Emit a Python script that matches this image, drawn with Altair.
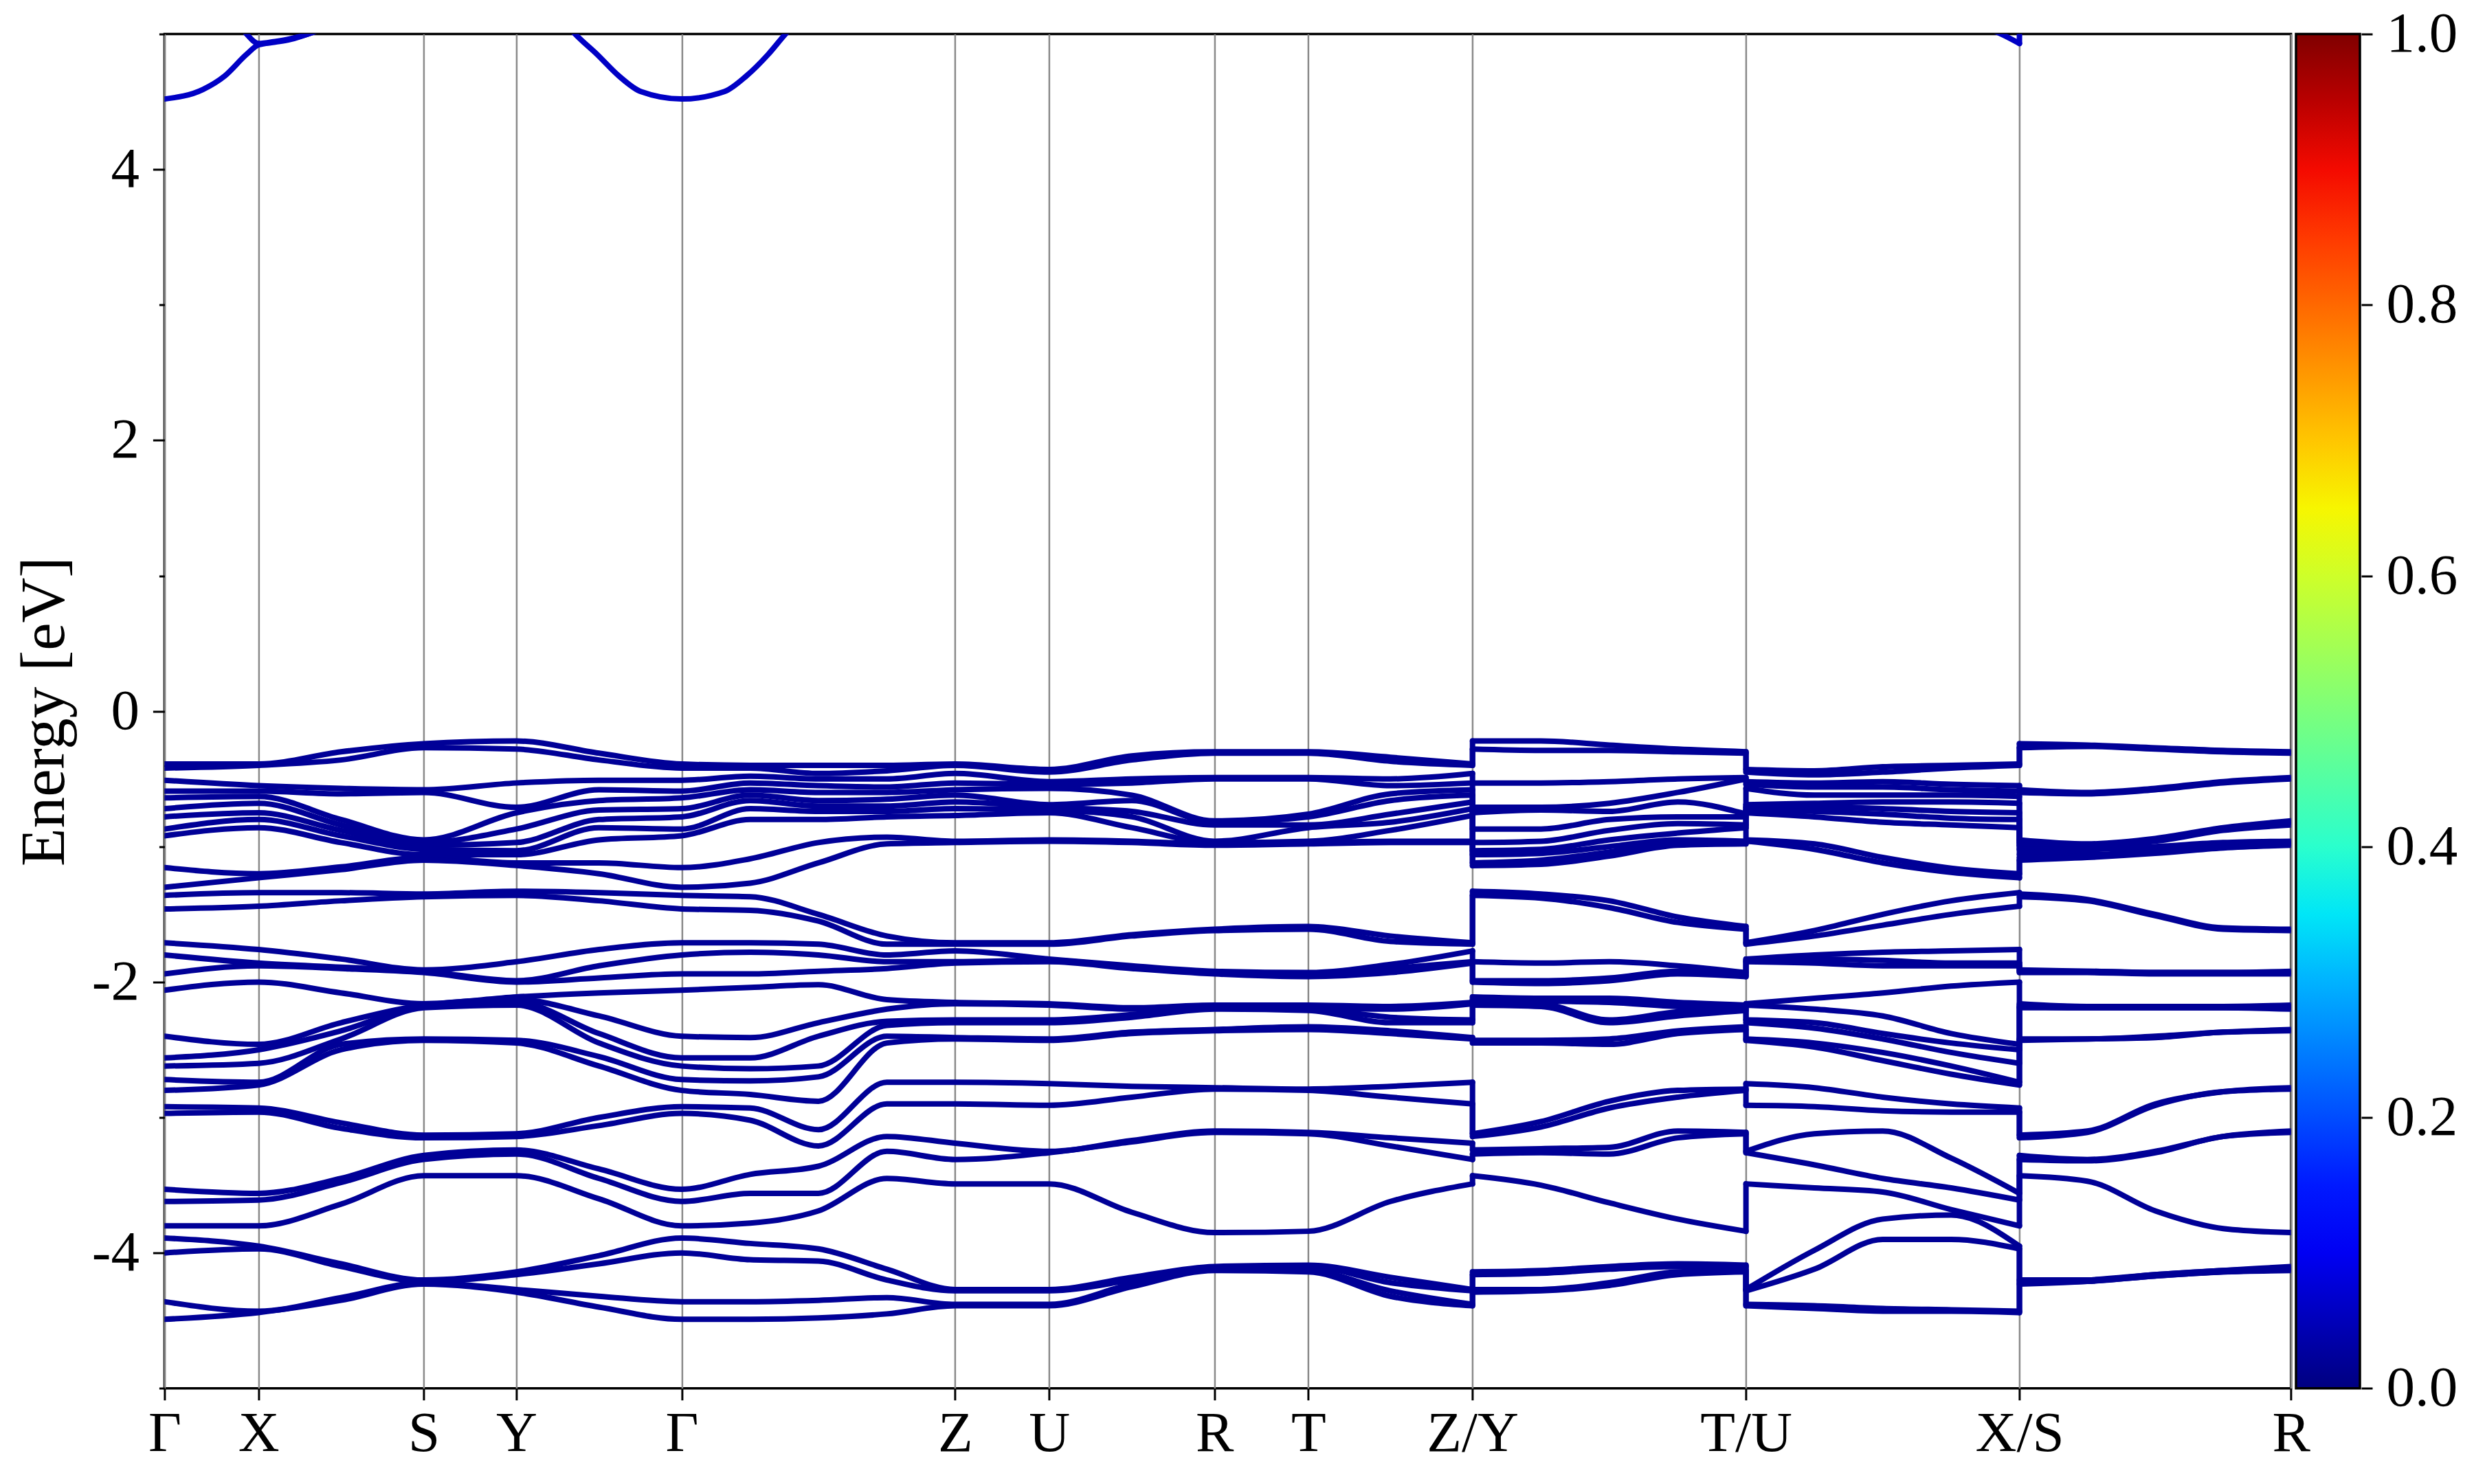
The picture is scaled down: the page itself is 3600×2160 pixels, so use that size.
import altair as alt
import pandas as pd

# ---------------- path / axis data ----------------
K_TICKS = [0.0, 0.0442, 0.1219, 0.1655, 0.2432, 0.3718, 0.4160, 0.4937, 0.5379, 0.6151, 0.7437, 0.8723, 1.0]
K_LABELS = ["Γ", "X", "S", "Y", "Γ", "Z", "U", "R", "T", "Z/Y", "T/U", "X/S", "R"]
Y_TICKS = [-5, -4, -3, -2, -1, 0, 1, 2, 3, 4, 5]
CBAR_TICKS = [0.0, 0.2, 0.4, 0.6, 0.8, 1.0]

# jet colormap stops
JET_STOPS = [0.0, 0.11, 0.125, 0.34, 0.35, 0.375, 0.64, 0.65, 0.66, 0.89, 0.91, 1.0]
JET_COLORS = ["#000080", "#0000ff", "#0000ff", "#00dbff", "#00e6f7", "#15ffe2",
              "#efff08", "#f7f600", "#ffec00", "#ff1300", "#e80000", "#800000"]

W_VALENCE = 0.02
W_CONDUCTION = 0.06

# ---------------- valence bands (eV), sorted, at sample k-points ----------------
E_GAMMA = [-0.39, -0.42, -0.51, -0.59, -0.64, -0.72, -0.78, -0.87, -0.92, -1.155, -1.30, -1.36, -1.46,
           -1.71, -1.80, -1.94, -2.06, -2.40, -2.56, -2.62, -2.72, -2.80, -2.92, -2.97,
           -3.53, -3.62, -3.80, -3.89, -4.00, -4.36, -4.49]
E_X = [-0.39, -0.40, -0.55, -0.59, -0.63, -0.68, -0.75, -0.80, -0.86, -1.20, -1.23, -1.34, -1.44,
       -1.76, -1.86, -1.88, -2.00, -2.46, -2.50, -2.60, -2.74, -2.76, -2.93, -2.96,
       -3.56, -3.61, -3.80, -3.95, -3.97, -4.43, -4.44]
E_XS = [-0.30, -0.36, -0.57, -0.61, -0.80, -0.84, -0.88, -0.92, -0.97, -1.15, -1.17, -1.34, -1.40,
        -1.83, -1.89, -1.90, -2.08, -2.30, -2.36, -2.42, -2.46, -2.50, -3.04, -3.08,
        -3.45, -3.48, -3.64, -4.08, -4.10, -4.33, -4.35]
E_S = [-0.24, -0.27, -0.58, -0.60, -0.95, -0.97, -0.99, -1.02, -1.06, -1.08, -1.10, -1.35, -1.37,
       -1.91, -1.92, -1.93, -2.16, -2.17, -2.18, -2.19, -2.42, -2.43, -3.13, -3.15,
       -3.28, -3.31, -3.43, -4.20, -4.21, -4.22, -4.23]
E_Y = [-0.22, -0.28, -0.53, -0.71, -0.75, -0.87, -0.97, -1.03, -1.06, -1.12, -1.14, -1.33, -1.36,
       -1.85, -1.99, -2.00, -2.11, -2.13, -2.15, -2.17, -2.43, -2.45, -3.12, -3.14,
       -3.24, -3.27, -3.43, -4.14, -4.16, -4.27, -4.29]
E_YG = [-0.31, -0.36, -0.51, -0.58, -0.66, -0.73, -0.80, -0.86, -0.95, -1.12, -1.20, -1.34, -1.40,
        -1.76, -1.88, -1.97, -2.08, -2.25, -2.38, -2.45, -2.55, -2.62, -3.00, -3.06,
        -3.38, -3.45, -3.60, -4.02, -4.08, -4.32, -4.40]
E_GZ1 = [-0.40, -0.42, -0.48, -0.53, -0.58, -0.62, -0.66, -0.72, -0.80, -1.09, -1.27, -1.37, -1.47,
         -1.71, -1.78, -1.94, -2.04, -2.41, -2.56, -2.64, -2.73, -2.83, -2.93, -3.02,
         -3.42, -3.56, -3.78, -3.93, -4.05, -4.36, -4.49]
E_GZ2 = [-0.40, -0.46, -0.50, -0.55, -0.60, -0.66, -0.70, -0.74, -0.80, -0.97, -1.12, -1.50, -1.55,
         -1.72, -1.80, -1.92, -2.02, -2.30, -2.40, -2.62, -2.70, -2.88, -3.09, -3.21,
         -3.36, -3.56, -3.69, -3.97, -4.06, -4.35, -4.48]
E_GZ3 = [-0.40, -0.44, -0.50, -0.56, -0.60, -0.65, -0.70, -0.74, -0.78, -0.93, -0.98, -1.66, -1.72,
         -1.80, -1.85, -1.90, -2.13, -2.20, -2.29, -2.32, -2.40, -2.45, -2.74, -2.90,
         -3.14, -3.25, -3.45, -4.12, -4.20, -4.33, -4.45]
E_Z = [-0.39, -0.40, -0.46, -0.53, -0.58, -0.62, -0.67, -0.72, -0.77, -0.96, -0.97, -1.71, -1.72,
       -1.77, -1.85, -1.86, -2.15, -2.16, -2.28, -2.30, -2.41, -2.42, -2.74, -2.90,
       -3.19, -3.31, -3.49, -4.27, -4.28, -4.38, -4.39]
E_U = [-0.43, -0.45, -0.52, -0.54, -0.57, -0.69, -0.71, -0.73, -0.75, -0.95, -0.96, -1.71, -1.72,
       -1.83, -1.84, -1.85, -2.16, -2.17, -2.28, -2.30, -2.42, -2.43, -2.75, -2.91,
       -3.25, -3.26, -3.49, -4.27, -4.28, -4.38, -4.39]
E_UR = [-0.33, -0.36, -0.50, -0.53, -0.62, -0.66, -0.74, -0.78, -0.86, -0.96, -0.97, -1.65, -1.66,
        -1.88, -1.89, -1.90, -2.19, -2.20, -2.24, -2.26, -2.37, -2.38, -2.77, -2.85,
        -3.17, -3.18, -3.70, -4.18, -4.20, -4.23, -4.25]
E_R = [-0.30, -0.31, -0.49, -0.50, -0.81, -0.82, -0.84, -0.96, -0.97, -0.98, -0.99, -1.61, -1.62,
       -1.92, -1.93, -1.94, -2.17, -2.18, -2.19, -2.20, -2.35, -2.36, -2.78, -2.79,
       -3.10, -3.11, -3.85, -4.10, -4.11, -4.12, -4.13]
E_T = [-0.30, -0.31, -0.49, -0.50, -0.76, -0.78, -0.84, -0.86, -0.96, -0.97, -0.98, -1.59, -1.61,
       -1.93, -1.95, -1.96, -2.17, -2.19, -2.20, -2.21, -2.33, -2.35, -2.79, -2.80,
       -3.11, -3.12, -3.84, -4.09, -4.10, -4.13, -4.14]
E_TZ = [-0.34, -0.37, -0.50, -0.55, -0.61, -0.66, -0.76, -0.82, -0.88, -0.96, -0.97, -1.66, -1.70,
        -1.87, -1.90, -1.93, -2.18, -2.20, -2.26, -2.30, -2.36, -2.38, -2.77, -2.85,
        -3.15, -3.21, -3.62, -4.18, -4.22, -4.28, -4.32]
E_YT1 = [-0.22, -0.29, -0.53, -0.71, -0.73, -0.87, -0.96, -1.02, -1.05, -1.10, -1.13, -1.35, -1.38,
         -1.86, -1.99, -2.01, -2.12, -2.14, -2.16, -2.18, -2.43, -2.45, -3.03, -3.07,
         -3.23, -3.26, -3.50, -4.13, -4.15, -4.27, -4.28]
E_YT2 = [-0.25, -0.29, -0.52, -0.68, -0.74, -0.80, -0.88, -0.95, -1.00, -1.04, -1.07, -1.40, -1.45,
         -1.85, -1.97, -1.99, -2.12, -2.15, -2.28, -2.30, -2.42, -2.46, -2.88, -2.93,
         -3.22, -3.27, -3.63, -4.10, -4.12, -4.22, -4.24]
E_YT3 = [-0.28, -0.30, -0.50, -0.60, -0.67, -0.78, -0.83, -0.90, -0.95, -0.97, -0.99, -1.52, -1.56,
         -1.88, -1.92, -1.94, -2.15, -2.18, -2.22, -2.25, -2.36, -2.38, -2.80, -2.85,
         -3.10, -3.15, -3.75, -4.08, -4.10, -4.14, -4.16]
E_UX1 = [-0.44, -0.47, -0.53, -0.56, -0.62, -0.68, -0.71, -0.74, -0.78, -0.98, -1.02, -1.62, -1.66,
         -1.80, -1.83, -1.86, -2.12, -2.20, -2.30, -2.34, -2.45, -2.48, -2.78, -2.92,
         -3.12, -3.35, -3.52, -3.98, -4.12, -4.39, -4.41]
E_UX2 = [-0.41, -0.45, -0.52, -0.56, -0.62, -0.67, -0.72, -0.76, -0.82, -1.08, -1.12, -1.50, -1.58,
         -1.78, -1.84, -1.88, -2.08, -2.25, -2.38, -2.42, -2.52, -2.58, -2.85, -2.95,
         -3.10, -3.45, -3.55, -3.75, -3.90, -4.41, -4.43]
E_UX3 = [-0.40, -0.42, -0.54, -0.58, -0.62, -0.67, -0.74, -0.79, -0.84, -1.16, -1.19, -1.40, -1.50,
         -1.77, -1.86, -1.88, -2.03, -2.38, -2.45, -2.52, -2.62, -2.68, -2.90, -2.96,
         -3.30, -3.52, -3.68, -3.72, -3.90, -4.42, -4.43]
E_SR1 = [-0.25, -0.26, -0.60, -0.61, -0.98, -0.99, -1.00, -1.02, -1.06, -1.07, -1.08, -1.39, -1.40,
         -1.92, -1.92, -1.93, -2.18, -2.18, -2.19, -2.19, -2.42, -2.42, -3.10, -3.11,
         -3.31, -3.32, -3.47, -4.20, -4.20, -4.21, -4.21]
E_SR2 = [-0.27, -0.28, -0.57, -0.58, -0.94, -0.95, -0.96, -1.00, -1.03, -1.04, -1.05, -1.50, -1.51,
         -1.93, -1.93, -1.94, -2.18, -2.18, -2.19, -2.19, -2.40, -2.41, -2.90, -2.91,
         -3.25, -3.26, -3.69, -4.16, -4.16, -4.17, -4.17]
E_SR3 = [-0.29, -0.30, -0.52, -0.53, -0.86, -0.87, -0.88, -0.97, -0.99, -1.00, -1.01, -1.60, -1.61,
         -1.93, -1.93, -1.94, -2.18, -2.18, -2.19, -2.19, -2.37, -2.37, -2.81, -2.81,
         -3.14, -3.14, -3.82, -4.13, -4.13, -4.14, -4.14]

# continuous path sections: sample k positions and the energy lists at them
SEC1_K = [0.0, 0.0442, 0.0830, 0.1219, 0.1655, 0.2043, 0.2432, 0.2754, 0.3075, 0.3397,
          0.3718, 0.4160, 0.4549, 0.4937, 0.5379, 0.5765, 0.6151]
SEC1_E = [E_GAMMA, E_X, E_XS, E_S, E_Y, E_YG, E_GAMMA, E_GZ1, E_GZ2, E_GZ3,
          E_Z, E_U, E_UR, E_R, E_T, E_TZ, E_Z]
SEC2_K = [0.6151, 0.6473, 0.6794, 0.7116, 0.7437]
SEC2_E = [E_Y, E_YT1, E_YT2, E_YT3, E_T]
SEC3_K = [0.7437, 0.7759, 0.8080, 0.8402, 0.8723]
SEC3_E = [E_U, E_UX1, E_UX2, E_UX3, E_X]
SEC4_K = [0.8723, 0.9042, 0.9362, 0.9681, 1.0]
SEC4_E = [E_S, E_SR1, E_SR2, E_SR3, E_R]

# path discontinuities (k, energies before, energies after)
JUMP_K = [0.6151, 0.7437, 0.8723]
JUMP_FROM = [E_Z, E_T, E_X]
JUMP_TO = [E_Y, E_U, E_S]

# conduction-band pieces visible below 5 eV
CB_A_K = [0.0, 0.018, 0.0283, 0.0386, 0.0442, 0.052, 0.0592, 0.0675, 0.085]
CB_A_E = [4.52, 4.59, 4.69, 4.85, 4.92, 4.94, 4.96, 5.00, 5.12]
CB_B_K = [0.030, 0.0386, 0.0442, 0.052, 0.0592, 0.0675, 0.085]
CB_B_E = [5.20, 5.00, 4.93, 4.945, 4.965, 5.00, 5.12]
CB_C_K = [0.180, 0.1931, 0.2034, 0.2137, 0.2240, 0.2432, 0.2633, 0.2736, 0.2839, 0.2920, 0.305]
CB_C_E = [5.25, 5.00, 4.85, 4.69, 4.575, 4.52, 4.575, 4.69, 4.85, 5.00, 5.20]
CB_D_K = [0.855, 0.865, 0.8723]
CB_D_E = [5.06, 4.99, 4.93]
CB_JUMP = (0.8723, 4.93, 5.30)

# ---------------- build tables ----------------
rows = []
for s, (ks, es) in enumerate([(SEC1_K, SEC1_E), (SEC2_K, SEC2_E), (SEC3_K, SEC3_E), (SEC4_K, SEC4_E)]):
    for j, (k, elist) in enumerate(zip(ks, es)):
        for b, e in enumerate(sorted(elist, reverse=True)):
            rows.append({"line": f"v{s}_{b}", "k": k, "E": e, "w": W_VALENCE, "ord": j})
for name, ks, es in [("cA", CB_A_K, CB_A_E), ("cB", CB_B_K, CB_B_E), ("cC", CB_C_K, CB_C_E), ("cD", CB_D_K, CB_D_E)]:
    for j, (k, e) in enumerate(zip(ks, es)):
        rows.append({"line": name, "k": k, "E": e, "w": W_CONDUCTION, "ord": j})
lines_df = pd.DataFrame(rows)

jrows = []
for k, a, b in zip(JUMP_K, JUMP_FROM, JUMP_TO):
    for e1, e2 in zip(sorted(a, reverse=True), sorted(b, reverse=True)):
        jrows.append({"k": k, "E": e1, "E2": e2, "w": W_VALENCE})
jrows.append({"k": CB_JUMP[0], "E": CB_JUMP[1], "E2": CB_JUMP[2], "w": W_CONDUCTION})
jumps_df = pd.DataFrame(jrows)

cbar_df = pd.DataFrame({"c": CBAR_TICKS})

# ---------------- chart ----------------
FONT = "Liberation Serif"
FS = 83
PLOT_W = 3094.3
PLOT_H = 1971.3
LW = 8

x_label_expr = "".join(f"abs(datum.value - {t}) < 0.005 ? '{lab}' : " for t, lab in zip(K_TICKS, K_LABELS)) + "''"

x_axis = alt.Axis(values=K_TICKS, labelExpr=x_label_expr, labelFont=FONT, labelFontSize=FS,
                  labelColor="black", labelPadding=8, labelFlush=False, labelOverlap=False,
                  labelAngle=0, tickSize=17, tickWidth=3, tickColor="black", domain=False,
                  grid=True, gridColor="#8a8a8a", gridWidth=2.5)

y_axis = alt.Axis(values=Y_TICKS,
                  labelExpr="datum.value % 2 == 0 ? (datum.value < 0 ? '-' + (-datum.value) : '' + datum.value) : ''",
                  labelFont=FONT, labelFontSize=FS, labelColor="black", labelPadding=20,
                  labelFlush=False, labelOverlap=False,
                  tickSize={"condition": {"test": "datum.value % 2 != 0", "value": 8}, "value": 17},
                  tickWidth=3, tickColor="black", domain=False, grid=False,
                  title="Energy [eV]", titleFont=FONT, titleFontSize=91, titleFontWeight="normal",
                  titleColor="black", titleAngle=270, titleX=-174, titleY=PLOT_H / 2,
                  titleAlign="center", titleBaseline="middle")

cbar_axis = alt.Axis(orient="right", offset=102.3, values=CBAR_TICKS, format=".1f",
                     labelFont=FONT, labelFontSize=FS, labelColor="black", labelPadding=20,
                     labelFlush=False, labelOverlap=False, labelBaseline="middle",
                     tickSize=16, tickWidth=3, tickColor="black", domain=False, grid=False,
                     title=None)

jet = alt.Scale(domain=JET_STOPS, range=JET_COLORS, interpolate="rgb")
legend = alt.Legend(title=None, orient="none", legendX=3101.6, legendY=0, direction="vertical",
                    gradientLength=PLOT_H, gradientThickness=93, gradientStrokeColor="black",
                    gradientStrokeWidth=3.5, values=CBAR_TICKS, labelExpr="''", padding=0)

e_scale = alt.Scale(domain=[-5, 5], nice=False, zero=False)
x_enc = alt.X("k:Q", scale=alt.Scale(domain=[0, 1], nice=False, zero=False), axis=x_axis, title=None)
c_enc = alt.Color("w:Q", scale=jet, legend=legend)

lines = alt.Chart(lines_df).mark_line(
    interpolate="monotone", strokeWidth=LW, strokeCap="round", strokeJoin="round", clip=True
).encode(x=x_enc, y=alt.Y("E:Q", scale=e_scale, axis=y_axis), color=c_enc,
         detail="line:N", order="ord:Q")

jumps = alt.Chart(jumps_df).mark_rule(strokeWidth=LW, strokeCap="round", clip=True).encode(
    x="k:Q", y=alt.Y("E:Q", scale=e_scale, axis=None), y2="E2:Q",
    color=alt.Color("w:Q", scale=jet, legend=legend)
)

cbar_ticks = alt.Chart(cbar_df).mark_point(opacity=0).encode(
    x=alt.value(0),
    y=alt.Y("c:Q", scale=alt.Scale(domain=[0, 1], nice=False, zero=False), axis=cbar_axis),
)

chart = alt.layer(lines, jumps, cbar_ticks).resolve_scale(y="independent").properties(
    width=PLOT_W, height=PLOT_H,
    padding={"left": 231.4, "top": 41.5, "right": 250, "bottom": 130},
    autosize="none",
).configure(font=FONT).configure_view(stroke="black", strokeWidth=3.5)

chart.save("out.html", embed_options={"renderer": "svg", "actions": False})
